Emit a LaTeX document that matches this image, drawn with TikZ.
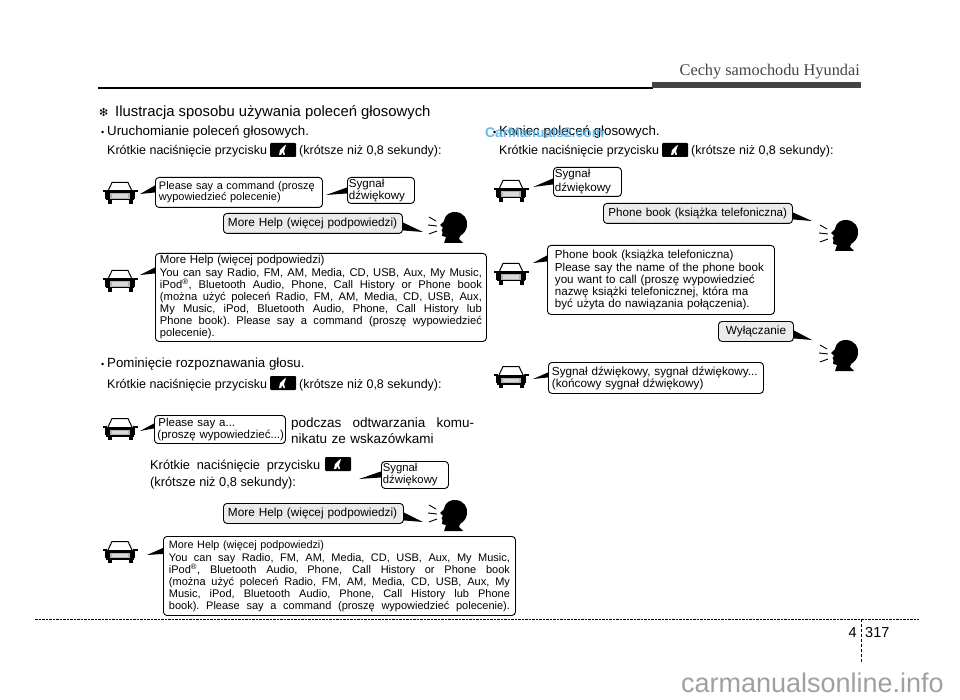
\documentclass[tikz,border=0pt]{standalone}
\usepackage{fontspec}
\setmainfont{Liberation Sans}
\newfontfamily\serifhead{Liberation Serif}
\newfontfamily\symfont{DejaVu Sans}
\definecolor{hdrgrey}{HTML}{444444}
\definecolor{wmark}{HTML}{5AB4E6}
\definecolor{wmgrey}{HTML}{A0A0A0}
\definecolor{saidfill}{HTML}{EBEBEB}
\tikzset{
  bubble/.style={draw=black,line width=0.9pt,rounded corners=3.5pt,fill=white,inner sep=0pt,anchor=north west,align=left},
  said/.style={bubble,fill=saidfill},
  body/.style={inner sep=0pt,anchor=base west,font=\fontsize{12.5}{14}\selectfont},
  lead/.style={inner sep=0pt,anchor=base west,font=\fontsize{13.3}{15}\selectfont},
  tail/.style={fill=black,draw=none},
  btn/.style={fill=black,inner sep=0pt,minimum width=26pt,minimum height=14pt,anchor=center,rounded corners=1pt}
}
\newcommand{\dotb}{{\fontsize{9}{9}\selectfont•}\hspace{2.85pt}}
\newcommand{\jline}[2]{\makebox[#1pt][s]{\frenchspacing\spaceskip=0pt\xspaceskip=0pt #2}}
% tip x, tip y, node anchor, upper base offset, lower base offset (pt, up positive)
\newcommand{\talk}[5]{\fill[tail] (#1,#2) -- ([yshift=#4pt]#3) -- ([yshift=#5pt]#3) -- cycle;}
\newcommand{\car}[2]{%
\begin{scope}[shift={(#1,#2)}]
 \draw[line width=1pt,fill=white] (-12,-2) -- (-8,-10.5) -- (8,-10.5) -- (12,-2);
 \fill[black] (-17.5,-3) rectangle (-13,-1);
 \fill[black] (17.5,-3) rectangle (13,-1);
 \fill[black] (-15,-2.5) rectangle (15,0.5);
 \fill[gray!60] (-14,0.5) rectangle (14,6);
 \fill[gray!30] (-8,1.5) rectangle (8,5);
 \fill[black] (-15,0.5) rectangle (-10,6);
 \fill[black] (15,0.5) rectangle (10,6);
 \fill[black] (-14,6) rectangle (14,7.5);
 \fill[black] (-12.5,7) rectangle (-8.5,11);
 \fill[black] (8.5,7) rectangle (12.5,11);
\end{scope}}
\newcommand{\head}[2]{%
\begin{scope}[shift={(#1,#2)}]
 \fill[black] (-10,16) -- (-8,10) -- (-12,9) -- (-11.5,5) -- (-12.5,3) -- (-11,1) -- (-14,-2) -- (-10,-6)
   .. controls (-9,-13) and (-3,-15.5) .. (2,-15)
   .. controls (10,-14) and (14,-8) .. (13,-1)
   .. controls (12.5,4) and (9,7) .. (6,9)
   -- (5,12) -- (9,16) -- cycle;
 \draw[line width=0.9pt] (-18,-6) -- (-25,-10) (-17,-1) -- (-26,-2) (-17,4) -- (-25,7);
\end{scope}}
\newcommand{\micbtn}[2]{%
\node[btn] at (#1,#2) {};
\fill[white] (#1-4,#2+5) -- (#1-3,#2) -- (#1+1,#2-4) -- (#1+3,#2-5) -- (#1+2,#2-2) -- (#1+1,#2+1) -- (#1+2,#2+5) -- (#1+0.5,#2+5) -- (#1-0.5,#2+2) -- (#1-2,#2+5) -- cycle;}
\begin{document}
\begin{tikzpicture}[x=1pt,y=-1pt]
\useasboundingbox (0,0) rectangle (960,700);
\fill[white] (0,0) rectangle (960,700);

% header
\node[inner sep=0pt,anchor=base east,font=\serifhead\fontsize{16.3}{18}\selectfont,text=hdrgrey] (title) at (860,76) {Cechy samochodu Hyundai};
\draw[line width=1.6pt] (98,88) -- (653,88);
\fill[hdrgrey] (652,82) rectangle (861,88.5);

% section heading
\node[inner sep=0pt,anchor=base west,font=\symfont\fontsize{11}{12}\selectfont] (star) at (99,117) {❇};
\node[inner sep=0pt,anchor=base west,font=\fontsize{14.85}{16}\selectfont] (heading) at (115,117) {Ilustracja sposobu używania poleceń głosowych};

% left column, group 1
\node[lead] (b1) at (101,136) {\dotb Uruchomianie poleceń głosowych.};
\node[body] (k1a) at (107,155) {Krótkie naciśnięcie przycisku};
\micbtn{283}{150}
\node[body] (k1b) at (299,155) {(krótsze niż 0,8 sekundy):};

\car{120}{193}
\node[bubble,font=\fontsize{10.95}{11}\selectfont,minimum width=167pt,minimum height=30pt,text width=160pt,inner xsep=3.5pt] (p1) at (155,177) {Please say a command (proszę\\wypowiedzieć polecenie)};
\talk{140}{194}{p1.west}{7}{0}
\node[bubble,font=\fontsize{11.6}{12}\selectfont,minimum width=67pt,minimum height=26pt,text width=64pt,inner xsep=1.5pt] (s1) at (347,177) {Sygnał\\dźwiękowy};
\talk{326}{195}{s1.west}{3}{-3}
\node[said,font=\fontsize{11.8}{13}\selectfont,minimum width=179pt,minimum height=20pt,text width=170pt,inner xsep=4.5pt] (m1) at (223,213) {More Help (więcej podpowiedzi)};
\talk{423}{232}{m1.east}{1}{-7}
\head{454}{227}

\car{120}{281}
\node[bubble,font=\fontsize{11.2}{12}\selectfont,minimum width=331pt,minimum height=88pt,text width=322pt,inner xsep=4.5pt] (h1) at (155,253) {{\fontsize{11.5}{12}\selectfont More Help (więcej podpowiedzi)}\\[1pt]\jline{322}{You can say Radio, FM, AM, Media, CD, USB, Aux, My Music,}\\\jline{322}{iPod\textsuperscript{®}, Bluetooth Audio, Phone, Call History or Phone book}\\\jline{322}{(można użyć poleceń Radio, FM, AM, Media, CD, USB, Aux,}\\\jline{322}{My Music, iPod, Bluetooth Audio, Phone, Call History lub}\\\jline{322}{Phone book). Please say a command (proszę wypowiedzieć}\\polecenie).};
\talk{140}{275}{h1.west}{30}{24}

% left column, group 2
\node[lead] (b2) at (101,367) {\dotb Pominięcie rozpoznawania głosu.};
\node[body] (k2a) at (107,388) {Krótkie naciśnięcie przycisku};
\micbtn{283}{383}
\node[body] (k2b) at (299,388) {(krótsze niż 0,8 sekundy):};

\car{120}{429}
\node[bubble,font=\fontsize{11.5}{11.5}\selectfont,minimum width=131pt,minimum height=28pt,text width=129pt,inner xsep=1pt] (p2) at (154,415) {\hspace*{3pt}Please say a...\\\hspace*{2pt}(proszę wypowiedzieć...)};
\talk{140}{431}{p2.west}{6}{1}
\node[inner sep=0pt,anchor=north west,text width=183pt,align=left,font=\fontsize{13.5}{15.5}\selectfont] (pz) at (291,418) {\jline{183}{podczas odtwarzania komu-}\\nikatu ze wskazówkami};
\node[body,font=\fontsize{12.8}{14}\selectfont] (k3a) at (150,469) {\jline{170}{Krótkie naciśnięcie przycisku}};
\micbtn{338}{464}
\node[body,font=\fontsize{12.8}{14}\selectfont] (k3b) at (150,486) {(krótsze niż 0,8 sekundy):};
\node[bubble,font=\fontsize{11.3}{12}\selectfont,minimum width=67pt,minimum height=27pt,text width=64pt,inner xsep=1.5pt] (s2) at (381,461) {Sygnał\\dźwiękowy};
\talk{359}{479}{s2.west}{3.5}{-2.5}
\node[said,font=\fontsize{11.8}{13}\selectfont,minimum width=180pt,minimum height=20pt,text width=171pt,inner xsep=4.5pt] (m2) at (223,503) {More Help (więcej podpowiedzi)};
\talk{423}{522}{m2.east}{1}{-7}
\head{454}{515}

\car{120}{552}
\node[bubble,font=\fontsize{11}{12}\selectfont,minimum width=352pt,minimum height=79pt,text width=341pt,inner xsep=5pt] (h2) at (163,536) {{\fontsize{10.8}{12}\selectfont More Help (więcej podpowiedzi)}\\[1pt]\jline{341}{You can say Radio, FM, AM, Media, CD, USB, Aux, My Music,}\\\jline{341}{iPod\textsuperscript{®}, Bluetooth Audio, Phone, Call History or Phone book}\\\jline{341}{(można użyć poleceń Radio, FM, AM, Media, CD, USB, Aux, My}\\\jline{341}{Music, iPod, Bluetooth Audio, Phone, Call History lub Phone}\\\jline{341}{book). Please say a command (proszę wypowiedzieć polecenie).}};
\talk{147}{555}{h2.west}{28}{22}

% right column
\node[lead] (b3) at (493,136) {\dotb Koniec poleceń głosowych.};
\node[inner sep=0pt,anchor=base west,font=\bfseries\fontsize{13.9}{15}\selectfont,text=wmark,opacity=.9] (wm) at (485,138) {CarManuals2.com};
\node[body] (k4a) at (499,155) {Krótkie naciśnięcie przycisku};
\micbtn{675}{150}
\node[body] (k4b) at (691,155) {(krótsze niż 0,8 sekundy):};

\car{511}{191}
\node[bubble,font=\fontsize{11.6}{14}\selectfont,minimum width=68pt,minimum height=29pt,text width=65pt,inner xsep=1.5pt] (s3) at (553,167) {Sygnał\\dźwiękowy};
\talk{533}{187}{s3.west}{3.5}{-2.5}
\node[said,font=\fontsize{11.6}{13}\selectfont,minimum width=189pt,minimum height=20pt,text width=179pt,inner xsep=5pt] (m3) at (603,203) {Phone book (książka telefoniczna)};
\talk{812}{221}{m3.east}{1}{-6}
\head{845}{235}

\car{511}{274}
\node[bubble,font=\fontsize{11.6}{12}\selectfont,minimum width=227pt,minimum height=69pt,text width=212pt,inner xsep=7.5pt] (h3) at (547,245) {Phone book (książka telefoniczna)\\[1.5pt]Please say the name of the phone book\\you want to call (proszę wypowiedzieć\\nazwę książki telefonicznej, która ma\\być użyta do nawiązania połączenia).};
\talk{533}{263}{h3.west}{24.5}{18.5}
\node[said,font=\fontsize{11.8}{13}\selectfont,minimum width=75pt,minimum height=20pt,text width=65pt,inner xsep=5pt,align=center] (m4) at (718,321) {Wyłączanie};
\talk{812}{340}{m4.east}{1}{-7}
\head{845}{355}

\car{511}{377}
\node[bubble,font=\fontsize{11.7}{12}\selectfont,minimum width=215pt,minimum height=31pt,text width=208pt,inner xsep=3.5pt] (s4) at (548,362) {Sygnał dźwiękowy, sygnał dźwiękowy...\\(końcowy sygnał dźwiękowy)};
\talk{533}{379}{s4.west}{5.5}{0.5}

% footer
\draw[line width=0.9pt,dash pattern=on 2.5pt off 1pt] (35,619) -- (919,619);
\draw[line width=0.9pt,dash pattern=on 3pt off 2pt] (861,619) -- (861,662);
\node[inner sep=0pt,anchor=base east,font=\fontsize{14.5}{16}\selectfont] (ch) at (857,637) {4};
\node[inner sep=0pt,anchor=base west,font=\fontsize{14.5}{16}\selectfont] (pg) at (865,637) {317};
\node[inner sep=0pt,anchor=base east,font=\fontsize{27}{30}\selectfont,text=wmgrey] (wm2) at (944,692) {carmanualsonline.info};
\end{tikzpicture}
\end{document}
